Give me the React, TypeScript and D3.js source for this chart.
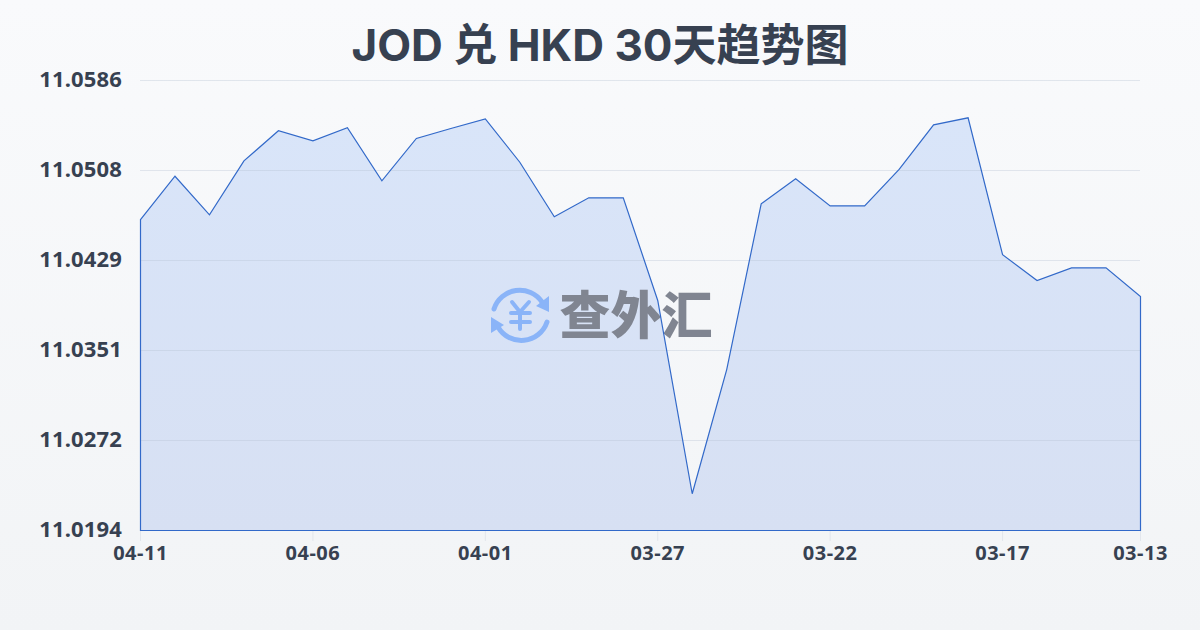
import React from "react";
import * as d3 from "d3";

const titleText = "JOD 兑 HKD 30天趋势图";
const dates = ["04-11","04-10","04-09","04-08","04-07","04-06","04-05","04-04","04-03","04-02","04-01","03-31","03-30","03-29","03-28","03-27","03-26","03-25","03-24","03-23","03-22","03-21","03-20","03-19","03-18","03-17","03-16","03-15","03-14","03-13"];
const rates = [11.04649,11.05026,11.0469,11.0516,11.05422,11.05335,11.05448,11.04986,11.05355,11.05442,11.05526,11.05148,11.04673,11.04838,11.04838,11.03944,11.0226,11.03342,11.04786,11.05004,11.04768,11.04768,11.05085,11.05474,11.05535,11.04342,11.04118,11.04228,11.04228,11.03978];
const yTicks = [11.0194,11.02724,11.03508,11.04292,11.05076,11.0586];
const xTickLabels = ["04-11","04-06","04-01","03-27","03-22","03-17","03-13"];

const FONT = '"Noto Sans","Noto Sans CJK SC",sans-serif';
const TITLE_FONT = 'Inter,"Noto Sans CJK SC",sans-serif';
const INK = "#374151";

export default function App() {
  const x = d3.scalePoint<string>().domain(dates).range([140.5, 1140.5]);
  const y = d3.scaleLinear().domain([11.0194, 11.0586]).range([530.5, 80.5]);
  const px = (_: number, i: number) => x(dates[i]) as number;
  const areaPath = d3.area<number>().x(px).y0(y(11.0194)).y1((d) => y(d))(rates) as string;
  const linePath = areaPath + "Z";
  return (
    <svg width={1200} height={630} viewBox="0 0 1200 630" style={{ position: "absolute", left: 0, top: 0, display: "block" }} fontFamily={FONT}>
      <defs>
        <linearGradient id="bg" x1="0" y1="0" x2="0" y2="1">
          <stop offset="0%" stopColor="#f9fafc" />
          <stop offset="100%" stopColor="#f2f4f6" />
        </linearGradient>
        <linearGradient id="fill" x1="0" y1="0" x2="0" y2="1">
          <stop offset="0%" stopColor="#d9e5f9" />
          <stop offset="100%" stopColor="#d7e0f3" />
        </linearGradient>
      </defs>
      <rect width={1200} height={630} fill="url(#bg)" />
      <text x={600} y={61} textAnchor="middle" fontSize={44} fontWeight={700} fill={INK} style={{ fontFamily: TITLE_FONT }}>{titleText}</text>
      <path d={areaPath} fill="url(#fill)" />
      {yTicks.map((t) => (
        <line key={t} x1={140} x2={1140} y1={Math.floor(y(t)) + 0.5} y2={Math.floor(y(t)) + 0.5} stroke="#b4bfd2" strokeOpacity={0.35} strokeWidth={1} />
      ))}
      {yTicks.map((t) => (
        <text key={t} x={122} y={Math.floor(y(t)) + 7} textAnchor="end" fontSize={22} fontWeight={700} letterSpacing={0.15} fill={INK}>{t.toFixed(4)}</text>
      ))}
      {xTickLabels.map((l) => {
        const p = x(l) as number;
        return (
          <g key={l}>
            <line x1={p} x2={p} y1={531} y2={541} stroke="#e2e6ec" strokeWidth={1} />
            <text x={p} y={560} textAnchor="middle" fontSize={20} fontWeight={700} letterSpacing={0.5} fill={INK}>{l}</text>
          </g>
        );
      })}
      <g fill="none" stroke="#8ab4f8" strokeWidth={5} strokeLinecap="round" strokeLinejoin="round">
        <path d="M494 309 A27 27 0 0 1 542 302" />
        <path d="M547 322 A27 27 0 0 1 498 327" />
        <path d="M512 302 L520 312 L529 302 M511 313 H530 M511 322 H530 M520 312 V329" strokeWidth={4} />
      </g>
      <path d="M549 296 L549 312 L536 306 Z M491 317 L491 333 L504 325 Z" fill="#8ab4f8" />
      <text x={636} y={334} textAnchor="middle" fontSize={51} fontWeight={900} fill="#808591" style={{ fontFamily: '"Noto Sans CJK SC"' }}>查外汇</text>
      <path d={linePath} fill="none" stroke="#3269c9" strokeWidth={1.2} strokeLinejoin="miter" />
    </svg>
  );
}
